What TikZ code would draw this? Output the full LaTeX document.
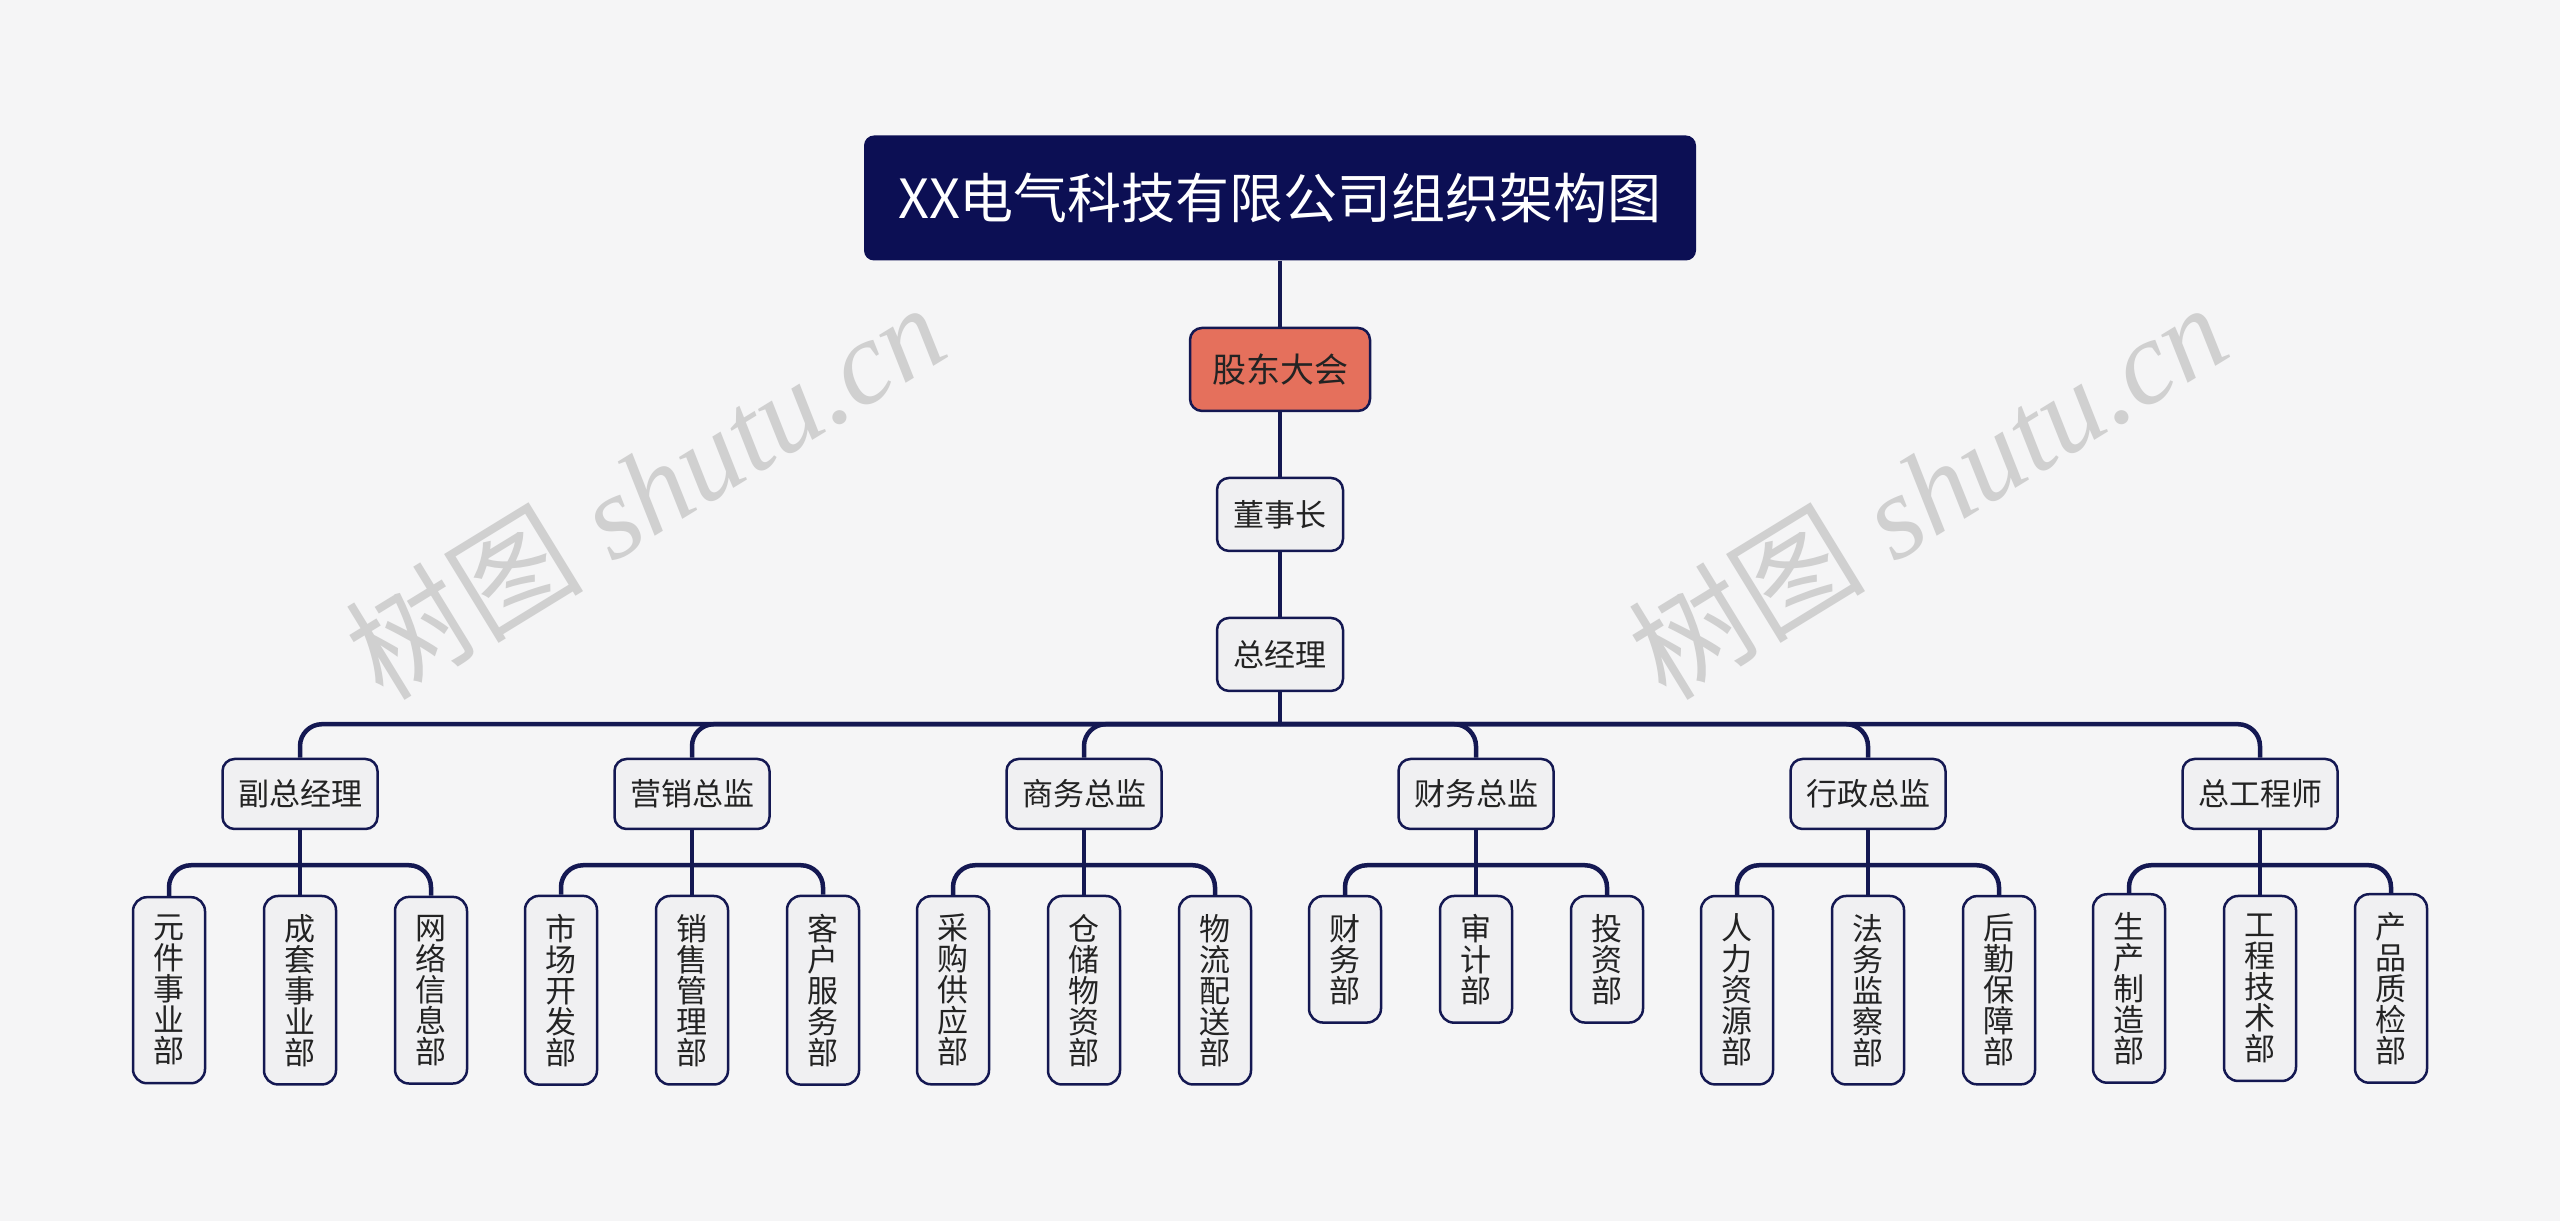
\documentclass[tikz,border=0pt]{standalone}
\usepackage{fontspec}
\setmainfont{Liberation Serif}
\newfontfamily\cjk{Noto Sans CJK SC}
\usetikzlibrary{positioning}
\definecolor{bgColor}{RGB}{245,245,246}
\definecolor{navyColor}{RGB}{12,15,84}
\definecolor{lineColor}{RGB}{20,24,82}
\definecolor{boxColor}{RGB}{240,240,242}
\definecolor{meetColor}{RGB}{229,112,92}
\definecolor{markColor}{RGB}{208,208,208}
\definecolor{textColor}{RGB}{35,35,35}
\newcommand{\titlefont}{\cjk\fontsize{54}{60}\selectfont}
\newcommand{\boxfont}{\cjk\fontsize{31}{31}\selectfont}
\newcommand{\meetfont}{\cjk\fontsize{34}{38}\selectfont}
\newcommand{\markfont}{\fontsize{119}{130}\selectfont}

\begin{document}
\begin{tikzpicture}[x=1pt, y=1pt,
    title/.style={fill=navyColor, rounded corners=10pt, minimum width=832pt, minimum height=125pt, text=white, font=\titlefont},
    meet/.style={draw=lineColor, line width=2.5pt, fill=meetColor, rounded corners=12pt, minimum width=180pt, minimum height=83pt, text=textColor, font=\meetfont},
    boss/.style={draw=lineColor, line width=2.5pt, fill=boxColor, rounded corners=12pt, minimum width=126pt, minimum height=73pt, text=textColor, font=\boxfont},
    head/.style={boss, minimum width=155pt, minimum height=70pt},
    dept/.style={draw=lineColor, line width=2.5pt, fill=boxColor, rounded corners=14pt, minimum width=72pt, inner ysep=18pt, align=center, text=textColor, font=\boxfont},
    link/.style={draw=lineColor, line width=4.5pt},
    elbow/.style={link, rounded corners=22pt},
    stamp/.style={text=markColor, rotate=31.5, font=\markfont}
  ]
  \useasboundingbox[fill=bgColor] (0,0) rectangle (2560,1221);

  % watermark
  \node[stamp] (markA) at (645,731) {{\cjk 树图} \itshape shutu.cn};
  \node[stamp] (markB) at (1927,731) {{\cjk 树图} \itshape shutu.cn};

  % top of the chart
  \node[title] (root) at (1280,1023) {XX电气科技有限公司组织架构图};
  \node[meet, below=66pt of root] (share) {股东大会};
  \node[boss, below=64.5pt of share] (chair) {董事长};
  \node[boss, below=64.5pt of chair] (gm) {总经理};

  \draw[link] (root) -- (share);
  \draw[link] (share) -- (chair);
  \draw[link] (chair) -- (gm);
  \draw[link] (gm.south) -- ++(0,-32) coordinate (gmj);

  % second level
  \node[head] (vp) at (300,427) {副总经理};
  \node[head, right=234.5pt of vp] (mkt) {营销总监};
  \node[head, right=234.5pt of mkt] (biz) {商务总监};
  \node[head, right=234.5pt of biz] (fin) {财务总监};
  \node[head, right=234.5pt of fin] (adm) {行政总监};
  \node[head, right=234.5pt of adm] (eng) {总工程师};

  \draw[elbow] (gmj) -| (vp.north);
  \draw[elbow] (gmj) -| (mkt.north);
  \draw[elbow] (gmj) -| (biz.north);
  \draw[elbow] (gmj) -| (fin.north);
  \draw[elbow] (gmj) -| (adm.north);
  \draw[elbow] (gmj) -| (eng.north);

  % departments
  \node[dept, below=64.5pt of vp] (vp2) {成\\套\\事\\业\\部};
  \node[dept, left=56.5pt of vp2] (vp1) {元\\件\\事\\业\\部};
  \node[dept, right=56.5pt of vp2] (vp3) {网\\络\\信\\息\\部};

  \node[dept, below=64.5pt of mkt] (mkt2) {销\\售\\管\\理\\部};
  \node[dept, left=56.5pt of mkt2] (mkt1) {市\\场\\开\\发\\部};
  \node[dept, right=56.5pt of mkt2] (mkt3) {客\\户\\服\\务\\部};

  \node[dept, below=64.5pt of biz] (biz2) {仓\\储\\物\\资\\部};
  \node[dept, left=56.5pt of biz2] (biz1) {采\\购\\供\\应\\部};
  \node[dept, right=56.5pt of biz2] (biz3) {物\\流\\配\\送\\部};

  \node[dept, below=64.5pt of fin] (fin2) {审\\计\\部};
  \node[dept, left=56.5pt of fin2] (fin1) {财\\务\\部};
  \node[dept, right=56.5pt of fin2] (fin3) {投\\资\\部};

  \node[dept, below=64.5pt of adm] (adm2) {法\\务\\监\\察\\部};
  \node[dept, left=56.5pt of adm2] (adm1) {人\\力\\资\\源\\部};
  \node[dept, right=56.5pt of adm2] (adm3) {后\\勤\\保\\障\\部};

  \node[dept, below=64.5pt of eng] (eng2) {工\\程\\技\\术\\部};
  \node[dept, left=56.5pt of eng2] (eng1) {生\\产\\制\\造\\部};
  \node[dept, right=56.5pt of eng2] (eng3) {产\\品\\质\\检\\部};

  \draw[link] (vp) -- (vp2);
  \coordinate (vpj) at ([yshift=-35pt]vp.south);
  \draw[elbow] (vpj) -| (vp1.north);
  \draw[elbow] (vpj) -| (vp3.north);

  \draw[link] (mkt) -- (mkt2);
  \coordinate (mktj) at ([yshift=-35pt]mkt.south);
  \draw[elbow] (mktj) -| (mkt1.north);
  \draw[elbow] (mktj) -| (mkt3.north);

  \draw[link] (biz) -- (biz2);
  \coordinate (bizj) at ([yshift=-35pt]biz.south);
  \draw[elbow] (bizj) -| (biz1.north);
  \draw[elbow] (bizj) -| (biz3.north);

  \draw[link] (fin) -- (fin2);
  \coordinate (finj) at ([yshift=-35pt]fin.south);
  \draw[elbow] (finj) -| (fin1.north);
  \draw[elbow] (finj) -| (fin3.north);

  \draw[link] (adm) -- (adm2);
  \coordinate (admj) at ([yshift=-35pt]adm.south);
  \draw[elbow] (admj) -| (adm1.north);
  \draw[elbow] (admj) -| (adm3.north);

  \draw[link] (eng) -- (eng2);
  \coordinate (engj) at ([yshift=-35pt]eng.south);
  \draw[elbow] (engj) -| (eng1.north);
  \draw[elbow] (engj) -| (eng3.north);
\end{tikzpicture}
\end{document}
